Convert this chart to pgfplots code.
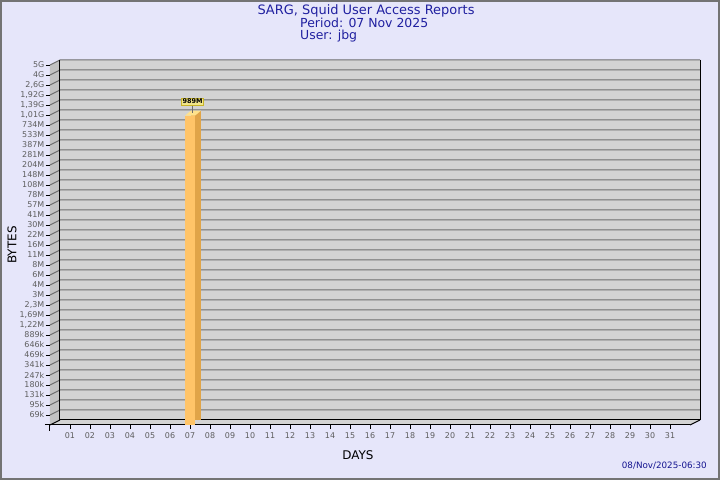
\documentclass[border=0pt]{standalone}
\usepackage{fontspec}
\setmainfont{DejaVu Sans}
\usepackage{pgfplots}
\pgfplotsset{compat=1.18}

\definecolor{bgcol}{HTML}{E6E6FA}
\definecolor{framecol}{HTML}{747474}
\definecolor{wallcol}{HTML}{D3D3D3}
\definecolor{sidecol}{HTML}{C2C2C2}
\definecolor{gridcol}{HTML}{6E6E6E}
\definecolor{labcol}{HTML}{5E5E5E}
\definecolor{titlecol}{HTML}{2020A0}
\definecolor{datecol}{HTML}{141490}
\definecolor{barfront}{HTML}{FFC468}
\definecolor{barside}{HTML}{E0A448}
\definecolor{bartopc}{HTML}{FFE28C}
\definecolor{boxfill}{HTML}{F2E68A}
\definecolor{boxdraw}{HTML}{C8B428}

% top face of the 3d bar plus the stem of its value label
\pgfdeclareplotmark{bartop}{%
  \pgfpathmoveto{\pgfqpoint{-5bp}{0bp}}%
  \pgfpathlineto{\pgfqpoint{5bp}{0bp}}%
  \pgfpathlineto{\pgfqpoint{11bp}{5bp}}%
  \pgfpathlineto{\pgfqpoint{1bp}{5bp}}%
  \pgfpathclose
  \pgfusepathqfill
  \pgfpathmoveto{\pgfqpoint{2.5bp}{3bp}}%
  \pgfpathlineto{\pgfqpoint{2.5bp}{10bp}}%
  \pgfusepathqstroke
}

\begin{document}
\begin{tikzpicture}[x=1bp,y=1bp]
\useasboundingbox (-50,-55) rectangle (670,425);
\fill[bgcol] (-50,-55) rectangle (670,425);
\draw[framecol, line width=2bp] (-49,-54) rectangle (669,424);

% walls
\fill[wallcol] (10,5) rectangle (650,365);
\fill[wallcol] (0,0) -- (640,0) -- (650,5) -- (10,5) -- cycle;
\fill[sidecol] (0,0) -- (10,5) -- (10,365) -- (0,360) -- cycle;
\foreach \i in {1,...,36}
  \draw[gridcol, line width=1bp] (0,10*\i) -- (10,10*\i+5) -- (650,10*\i+5);
\draw[black, line width=1bp] (10,365) -- (10,5) -- (650,5) -- (650,365);
\draw[black, line width=1bp] (0,0) -- (10,5);
\draw[black, line width=1bp] (640,0) -- (650,5);
\draw[black, line width=1bp] (-5,0) -- (640,0);
\draw[black, line width=1bp] (0,0) -- (0,-6);

\begin{axis}[
  at={(0,0)}, anchor=south west,
  width=640bp, height=360bp, scale only axis,
  xmin=0, xmax=32,
  ymode=log, ymin=5e4, ymax=5e9,
  axis line style={draw=none},
  xtick={1,...,31},
  xticklabels={01,02,03,04,05,06,07,08,09,10,11,12,13,14,15,16,17,18,19,20,21,22,23,24,25,26,27,28,29,30,31},
  ytick={68840,94782,130490,179660,247360,340570,468900,645570,888840,
    1223800,1685000,2319900,3194000,4397500,6054500,8335700,11484000,15811000,
    21768000,29970000,41262000,56810000,78215000,107720000,148300000,204180000,
    281120000,387050000,532900000,733670000,1010500000,1391300000,1915500000,
    2637200000,3631000000,5000000000},
  yticklabels={69k,95k,131k,180k,247k,341k,469k,646k,889k,{1,22M},{1,69M},{2,3M},
    3M,4M,6M,8M,11M,16M,22M,30M,41M,57M,78M,108M,148M,204M,281M,387M,533M,734M,
    {1,01G},{1,39G},{1,92G},{2,6G},4G,5G},
  yminorticks=false, xminorticks=false,
  xtick pos=left, ytick pos=left,
  tick align=outside, major tick length=4bp,
  every tick/.style={black, line width=0.8bp},
  tick label style={font=\fontsize{8}{9}\selectfont, text=labcol},
  yticklabel style={inner xsep=1.5bp},
  log origin=infty,
]
% side face: copy of the bar moved back in depth
\addplot[ybar, bar width=10bp, fill=barside, draw=none, xshift=6bp, yshift=5bp]
  coordinates {(7,989000000)};
% front face
\addplot[ybar, bar width=10bp, fill=barfront, draw=none]
  coordinates {(7,989000000)};
% top face and value label
\addplot[only marks, mark=bartop, mark options={fill=bartopc, draw=gridcol, line width=0.8bp},
  point meta=explicit symbolic, nodes near coords,
  every node near coord/.style={anchor=south, xshift=2.5bp, yshift=10bp,
    fill=boxfill, draw=boxdraw, line width=0.8bp, inner xsep=0.8bp, inner ysep=1.2bp,
    font=\fontsize{6.5}{7}\selectfont\bfseries, text=black}]
  coordinates {(7,989000000) [989M]};
\end{axis}

% texts
\node[anchor=base, text=titlecol, font=\fontsize{13}{14}\selectfont] at (316,410) {SARG, Squid User Access Reports};
\node[anchor=base west, text=titlecol, font=\fontsize{12.5}{14}\selectfont, inner sep=0pt] at (250,397) {Period: 07 Nov 2025};
\node[anchor=base west, text=titlecol, font=\fontsize{12.5}{14}\selectfont, inner sep=0pt] at (250,385) {User: jbg};
\node[rotate=90, font=\fontsize{12}{14}\selectfont] at (-38,180) {BYTES};
\node[font=\fontsize{12}{14}\selectfont] at (308,-30) {DAYS};
\node[anchor=base east, text=datecol, font=\fontsize{8.8}{10}\selectfont, inner sep=0pt] at (657,-44) {08/Nov/2025-06:30};
\end{tikzpicture}
\end{document}
